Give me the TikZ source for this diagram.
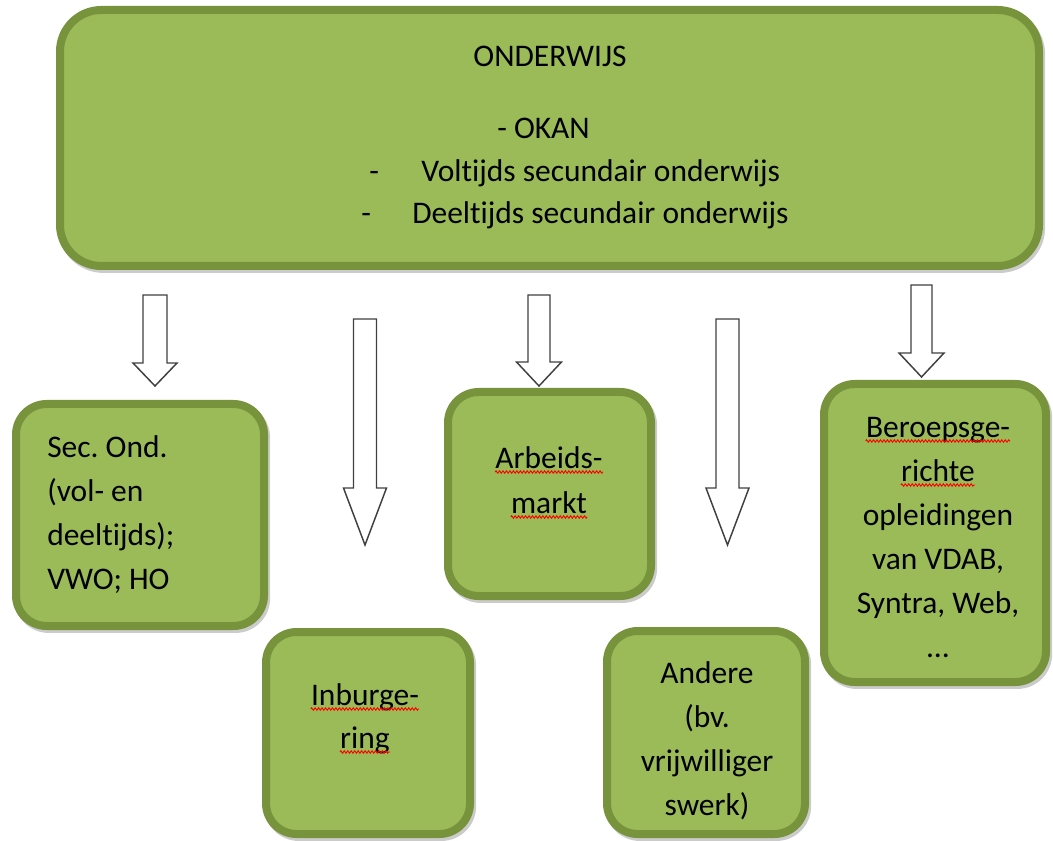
\documentclass[tikz,border=0pt]{standalone}
\usepackage{fontspec}
\setmainfont{Carlito}[Ligatures=NoCommon]
\usetikzlibrary{shadows,decorations.pathmorphing}
\definecolor{fillgreen}{HTML}{9BBB59}
\definecolor{edgegreen}{HTML}{77933C}
\definecolor{arrowgray}{HTML}{404040}
\newlength\wpre
\newlength\wword
\frenchspacing
\newcommand\bodyfont{\fontsize{23.6}{28}\selectfont}
\newcommand\blockarrow[7]{% name, cx, top, base, tip, shaft half width, head half width
  \draw[blockarrow] ({#2-#6},#3) coordinate (#1-top) -- ({#2+#6},#3) -- ({#2+#6},#4) -- ({#2+#7},#4)
     -- (#2,#5) coordinate (#1-tip) -- ({#2-#7},#4) -- ({#2-#6},#4) -- cycle;}
\tikzset{
  greenbox/.style={draw=edgegreen, fill=fillgreen, line width=6pt, rounded corners=#1, inner sep=0pt,
     general shadow={draw=black!45, fill=black!45, line width=6pt, opacity=0.45, shadow xshift=1.6pt, shadow yshift=-2.2pt}},
  greenbox/.default=23pt,
  blockarrow/.style={draw=arrowgray, fill=white, line width=1.1pt, line join=miter},
  txt/.style={font=\bodyfont, inner sep=0pt, text=black},
  squiggle/.style={draw=red, line width=0.7pt, decorate, decoration={zigzag, amplitude=0.9pt, segment length=2.6pt}},
}
\begin{document}
\begin{tikzpicture}[x=0.75pt, y=-0.75pt]
\useasboundingbox (0,0) rectangle (1053,841);

% boxes
\node[greenbox=31pt, minimum width=734.25pt, minimum height=192pt] (top) at (549.5,138) {};
\node[greenbox, minimum width=186pt, minimum height=166.5pt] (sec) at (140,515) {};
\node[greenbox, minimum width=152.25pt, minimum height=153pt] (arb) at (549.5,494) {};
\node[greenbox, minimum width=153pt, minimum height=151.5pt] (inb) at (368,733) {};
\node[greenbox, minimum width=148.5pt, minimum height=152.25pt] (and) at (706,732.5) {};
\node[greenbox, minimum width=166.5pt, minimum height=223.5pt] (ber) at (935,533) {};

% top box text
\node[txt, anchor=base] (t0) at (550,67) {ONDERWIJS};
\node[txt, anchor=base west] (t1) at (497,139) {- OKAN};
\node[txt, anchor=base west] (t2d) at (369,182) {-};
\node[txt, anchor=base west] (t2) at (421,182) {Voltijds secundair onderwijs};
\node[txt, anchor=base west] (t3d) at (361,224) {-};
\node[txt, anchor=base west] (t3) at (412,224) {Deeltijds secundair onderwijs};

% Sec. Ond.
\node[txt, anchor=base west] (s1) at (47,457) {Sec. Ond.};
\node[txt, anchor=base west] (s2) at (47,501) {(vol- en};
\node[txt, anchor=base west] (s3) at (47,545) {deeltijds);};
\node[txt, anchor=base west] (s4) at (47,589) {VWO; HO};

% Arbeidsmarkt
\node[txt, anchor=base] (a1) at (549,468) {Arbeids-};
\node[txt, anchor=base] (a2) at (549,513) {markt};

% Inburgering
\node[txt, anchor=base] (i1) at (365,705) {Inburge-};
\node[txt, anchor=base] (i2) at (365,748) {ring};

% Andere
\node[txt, anchor=base] (n1) at (707,683) {Andere};
\node[txt, anchor=base] (n2) at (707,727) {(bv.};
\node[txt, anchor=base] (n3) at (707,771) {vrijwilliger};
\node[txt, anchor=base] (n4) at (707,815) {swerk)};

% Beroepsgerichte
\node[txt, anchor=base] (b1) at (938,437) {Beroepsge-};
\node[txt, anchor=base] (b2) at (938,481) {richte};
\node[txt, anchor=base] (b3) at (938,525) {opleidingen};
\node[txt, anchor=base] (b4) at (938,569) {van VDAB,};
\node[txt, anchor=base] (b5) at (938,613) {Syntra, Web,};
\node[txt, anchor=base] (b6) at (938,657) {…};

% spell-check squiggles
\settowidth{\wpre}{\bodyfont Sec.\ }
\settowidth{\wword}{\bodyfont Sec.\ Ond}
\draw[squiggle] ([xshift=\wpre, yshift=-3pt]s1.base west) -- ([xshift=\wword, yshift=-3pt]s1.base west);
\settowidth{\wword}{\bodyfont Syntra}
\draw[squiggle] ([yshift=-3pt]b5.base west) -- ([xshift=\wword, yshift=-3pt]b5.base west);
\foreach \w in {a1,a2,i1,i2,b1,b2}{
  \draw[squiggle] ([yshift=-3pt]\w.base west) -- ([yshift=-3pt]\w.base east);
}

% block arrows
\blockarrow{ar1}{155}{295}{363}{386}{12}{22}
\blockarrow{ar2}{365}{319}{488}{545}{11.5}{21.5}
\blockarrow{ar3}{539}{295}{362}{386}{11}{22.5}
\blockarrow{ar4}{727.5}{319}{488}{545}{11.5}{21.5}
\blockarrow{ar5}{921.5}{285}{353}{377}{10.5}{22.5}
\end{tikzpicture}
\end{document}
